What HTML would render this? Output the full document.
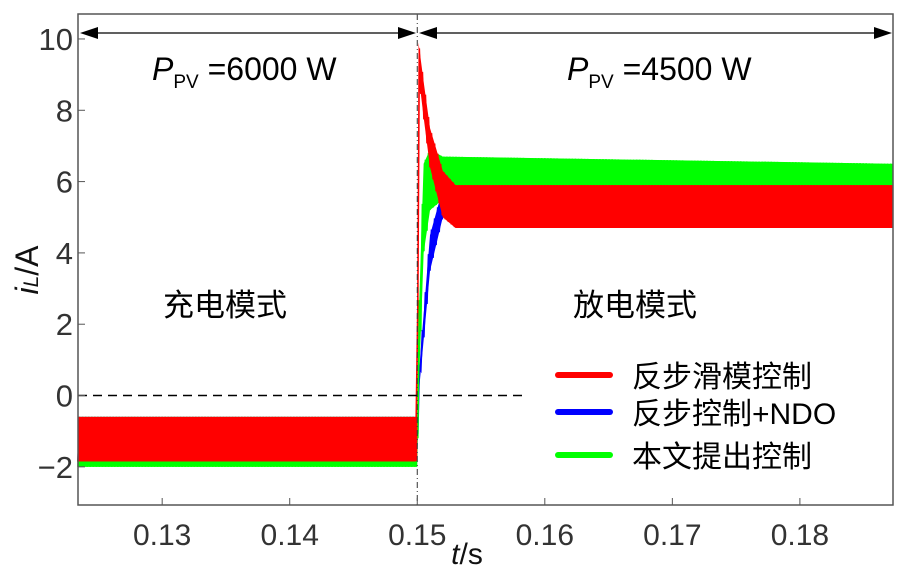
<!DOCTYPE html>
<html><head><meta charset="utf-8"><style>
body{margin:0;background:#fff;}
svg text{font-family:"Liberation Sans","Noto Sans CJK SC",sans-serif;}
</style></head><body>
<svg id="chart" width="917" height="572" viewBox="0 0 917 572" xmlns="http://www.w3.org/2000/svg">
<g id="series"></g>
<g id="axes"></g>
</svg>
<script>
const xTicks=[0.13,0.14,0.15,0.16,0.17,0.18];
const yTicks=[-2,0,2,4,6,8,10];
const yTickLabels=["\u22122","0","2","4","6","8","10"];
// envelopes: time, low, high
const redT=[0.1234,0.1499,0.1500,0.1501,0.1505,0.1510,0.1520,0.1530,0.1873];
const redLo=[-1.85,-1.85,-1.8,9.0,7.8,6.4,5.0,4.7,4.7];
const redHi=[-0.6,-0.6,-0.6,9.9,8.8,7.5,6.3,5.9,5.9];
const greenT=[0.1234,0.1499,0.1500,0.1501,0.1505,0.1510,0.1520,0.1873];
const greenLo=[-2.0,-2.0,-2.0,0,4.0,5.2,5.5,5.5];
const greenHi=[-0.6,-0.6,-0.6,2,6.5,6.9,6.7,6.5];
const blueT=[0.1234,0.1499,0.1500,0.1501,0.1510,0.1520,0.1530,0.1873];
const blueLo=[-1.85,-1.85,-1.8,0,3.5,5.0,5.5,5.5];
const blueHi=[-0.6,-0.6,-0.6,0.5,4.5,5.8,6.5,6.4];

const X0=78,X1=893,Y0=14,Y1=505;
const tMin=0.1234,tMax=0.1873,vMin=-3.07,vMax=10.7;
function sx(t){return X0+(t-tMin)/(tMax-tMin)*(X1-X0);}
function sy(v){return Y1-(v-vMin)/(vMax-vMin)*(Y1-Y0);}
const NS="http://www.w3.org/2000/svg";
function mk(tag,attrs,parent){const e=document.createElementNS(NS,tag);for(const k in attrs)e.setAttribute(k,attrs[k]);parent.appendChild(e);return e;}
function interp(T,A,t){for(let i=0;i<T.length-1;i++){if(t<=T[i+1]){const f=(t-T[i])/(T[i+1]-T[i]||1);return A[i]+f*(A[i+1]-A[i]);}}return A[A.length-1];}
const sg=document.getElementById('series');
function drawSeries(name,T,LO,HI,color){
  let pts=[];let k=0;
  for(let t=T[0];t<=T[T.length-1];t+=0.00012){
    const v=(k%2===0)?interp(T,LO,t):interp(T,HI,t);
    pts.push(sx(t).toFixed(1)+","+sy(v).toFixed(1));k++;
  }
  const top=[],bot=[];
  for(let i=0;i<T.length;i++){top.push(sx(T[i])+","+sy(HI[i]));bot.unshift(sx(T[i])+","+sy(LO[i]));}
  const poly=mk('polygon',{points:top.concat(bot).join(' '),fill:color},sg);
  
  
  const pl=mk('polyline',{points:pts.join(' '),fill:'none',stroke:color,'stroke-width':1.6},sg);
  
  
}
drawSeries('blue-series',blueT,blueLo,blueHi,'#0000ff');
drawSeries('green-series',greenT,greenLo,greenHi,'#00ff00');
drawSeries('red-series',redT,redLo,redHi,'#ff0000');

const ax=document.getElementById('axes');
const z=mk('line',{x1:X0,x2:525,y1:sy(0),y2:sy(0),stroke:'#000','stroke-width':1.5,'stroke-dasharray':'9,6'},ax);

const vl=mk('line',{x1:sx(0.15),x2:sx(0.15),y1:Y0,y2:Y1,stroke:'#333','stroke-width':1,'stroke-dasharray':'6,3,1,3'},ax);

const fr=mk('rect',{x:X0,y:Y0,width:X1-X0,height:Y1-Y0,fill:'none',stroke:'#555','stroke-width':1.5},ax);

xTicks.forEach(t=>{
  const l=mk('line',{x1:sx(t),x2:sx(t),y1:Y1,y2:Y1-7,stroke:'#555','stroke-width':1},ax);
  
  const tx=mk('text',{x:sx(t),y:Y1+40,'text-anchor':'middle','font-size':30,fill:'#333'},ax);tx.textContent=t.toFixed(2);
  
});
yTicks.forEach((v,i)=>{
  const l=mk('line',{x1:X0,x2:X0+7,y1:sy(v),y2:sy(v),stroke:'#555','stroke-width':1},ax);
  
  const tx=mk('text',{x:X0-5,y:sy(v)+11,'text-anchor':'end','font-size':31,fill:'#333'},ax);tx.textContent=yTickLabels[i];
  
});
</script>
<svg style="position:absolute;left:0;top:0" width="917" height="572">
 <g>
  <line x1="90" y1="33" x2="405" y2="33" stroke="#000" stroke-width="1.2"/>
  <polygon points="80,33 98,27 98,39" fill="#000"/>
  <polygon points="416,33 398,27 398,39" fill="#000"/>
 </g>
 <g>
  <line x1="430" y1="33" x2="880" y2="33" stroke="#000" stroke-width="1.2"/>
  <polygon points="419,33 437,27 437,39" fill="#000"/>
  <polygon points="892,33 874,27 874,39" fill="#000"/>
 </g>
 <text x="152" y="80" font-size="32" font-family="Liberation Sans, sans-serif"><tspan font-style="italic">P</tspan><tspan font-size="19" dy="8">PV</tspan><tspan dy="-8"> =6000 W</tspan></text>
 <text x="567" y="80" font-size="32" font-family="Liberation Sans, sans-serif"><tspan font-style="italic">P</tspan><tspan font-size="19" dy="8">PV</tspan><tspan dy="-8"> =4500 W</tspan></text>
 <text x="163" y="316" font-size="31" font-family="Noto Serif CJK SC, serif">充电模式</text>
 <text x="573" y="316" font-size="31" font-family="Noto Serif CJK SC, serif">放电模式</text>
 <g font-size="30" font-family="Noto Serif CJK SC, serif">
  <line x1="558" y1="375" x2="610" y2="375" stroke="#ff0000" stroke-width="6" stroke-linecap="round"/>
  <text x="632" y="387">反步滑模控制</text>
  <line x1="558" y1="412" x2="610" y2="412" stroke="#0000ff" stroke-width="6" stroke-linecap="round"/>
  <text x="632" y="424">反步控制<tspan font-family="Liberation Sans, sans-serif">+NDO</tspan></text>
  <line x1="558" y1="455" x2="610" y2="455" stroke="#00ff00" stroke-width="6" stroke-linecap="round"/>
  <text x="632" y="467">本文提出控制</text>
 </g>
 <text transform="translate(38,270) rotate(-90)" text-anchor="middle" font-size="32" fill="#111" font-family="Liberation Sans, sans-serif"><tspan font-style="italic">i</tspan><tspan font-style="italic" font-size="21">L</tspan>/A</text>
 <text x="467" y="564" text-anchor="middle" font-size="30" fill="#111" font-family="Liberation Sans, sans-serif"><tspan font-style="italic">t</tspan>/s</text>
</svg>
</body></html>
